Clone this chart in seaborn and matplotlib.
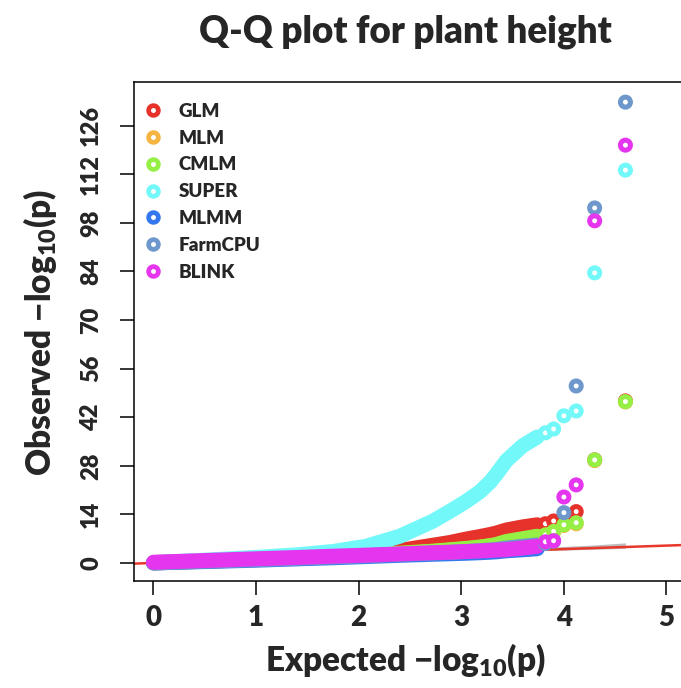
import numpy as np
import pandas as pd
import seaborn as sns
import matplotlib.pyplot as plt
from matplotlib.lines import Line2D

methods = ['GLM', 'MLM', 'CMLM', 'SUPER', 'MLMM', 'FarmCPU', 'BLINK']
colors = ['#E6322A', '#F6B441', '#95EF45', '#72F8F8', '#3478F0', '#6E97CB', '#E535EE']

# dense part of each curve (looks like a thick band)
band_expected = [0.0, 0.5, 1.0, 1.42, 1.75, 2.07, 2.4, 2.72, 2.89, 3.05, 3.18, 3.28, 3.34, 3.44, 3.6, 3.74]
glm_band = [0.1, 0.6, 1.1, 1.6, 2.0, 2.6, 3.6, 5.1, 5.9, 6.9, 7.6, 8.2, 8.6, 9.5, 10.4, 11.0]
mlm_band = [0.0, 0.5, 1.0, 1.4, 1.75, 2.2, 2.7, 3.3, 3.7, 4.1, 4.5, 4.9, 5.2, 6.0, 6.8, 7.5]
cmlm_band = [0.05, 0.55, 1.05, 1.5, 1.85, 2.3, 2.8, 3.4, 3.8, 4.2, 4.6, 5.0, 5.3, 6.2, 7.0, 7.7]
super_band = [0.1, 0.8, 1.6, 2.4, 3.3, 4.8, 7.7, 12.0, 14.9, 17.8, 20.5, 23.3, 25.5, 29.5, 33.8, 36.3]
mlmm_band = [0.0, 0.4, 0.8, 1.2, 1.5, 1.85, 2.2, 2.5, 2.65, 2.8, 2.95, 3.1, 3.2, 3.5, 3.8, 4.1]
farmcpu_band = [0.0, 0.5, 0.95, 1.4, 1.75, 2.1, 2.5, 2.85, 3.05, 3.3, 3.55, 3.75, 3.9, 4.3, 4.8, 5.2]
blink_band = [0.2, 0.7, 1.2, 1.6, 1.95, 2.25, 2.6, 2.95, 3.1, 3.3, 3.45, 3.6, 3.7, 3.85, 4.3, 4.8]

# top ranked SNPs drawn as separate rings
tail_expected = [3.82, 3.9, 4.0, 4.12, 4.3, 4.6]
glm_tail = [11.3, 12.1, 13.0, 14.8, 29.7, 46.7]
mlm_tail = [8.0, 8.9, 10.8, 11.3, 29.5, 46.4]
cmlm_tail = [8.1, 9.1, 11.0, 11.6, 29.7, 46.5]
super_tail = [37.5, 38.6, 42.4, 43.8, 83.6, 113.2]
mlmm_tail = [np.nan, np.nan, np.nan, np.nan, np.nan, np.nan]
farmcpu_tail = [5.6, 6.3, 14.5, 51.0, 102.3, 132.8]
blink_tail = [6.1, 6.4, 19.0, 22.5, 98.6, 120.4]

# grey confidence band
ci_expected = [0.0, 1.0, 2.0, 3.0, 3.5, 4.0, 4.3, 4.6]
ci_lower = [0.0, 0.95, 1.9, 2.8, 3.3, 3.7, 3.95, 4.2]
ci_upper = [0.0, 1.05, 2.15, 3.3, 3.95, 4.75, 5.2, 5.8]

bands = [glm_band, mlm_band, cmlm_band, super_band, mlmm_band, farmcpu_band, blink_band]
tails = [glm_tail, mlm_tail, cmlm_tail, super_tail, mlmm_tail, farmcpu_tail, blink_tail]

band_df = pd.concat([pd.DataFrame({'expected': band_expected, 'observed': b, 'method': m})
                     for m, b in zip(methods, bands)], ignore_index=True)
tail_df = pd.concat([pd.DataFrame({'expected': tail_expected, 'observed': t, 'method': m})
                     for m, t in zip(methods, tails)], ignore_index=True).dropna()
palette = dict(zip(methods, colors))

sns.set_style('ticks')
plt.rcParams['font.family'] = ['Lato', 'DejaVu Sans']
plt.rcParams['font.weight'] = 'heavy'
plt.rcParams['mathtext.fontset'] = 'custom'
plt.rcParams['mathtext.rm'] = 'Lato:heavy'
plt.rcParams['mathtext.it'] = 'Lato:heavy'
plt.rcParams['mathtext.bf'] = 'Lato:heavy'

fig = plt.figure(figsize=(6.81, 6.88), dpi=100)
x0, x1 = -0.19, 5.3
y0, y1 = -5.2, 138.6
ax = fig.add_axes([134 / 681, 107 / 688, (154 + x1 * 102.5 - 134) / 681, 499 / 688])

ax.fill_between(ci_expected, ci_lower, ci_upper, color='#BDBDBD', lw=0, zorder=1)
ax.axline((0, 0), slope=1, color='#E8382A', lw=1.8, zorder=1.5)

sns.lineplot(data=band_df, x='expected', y='observed', hue='method', hue_order=methods,
             palette=palette, estimator=None, sort=False, legend=False, lw=10.8,
             solid_capstyle='round', ax=ax)
sns.scatterplot(data=tail_df, x='expected', y='observed', hue='method', hue_order=methods,
                palette=palette, s=52, linewidth=3.6, legend=False, zorder=3, ax=ax)
rings = ax.collections[-1]
rings.set_edgecolors(rings.get_facecolors())
rings.set_facecolors('white')

ax.set_xlim(x0, x1)
ax.set_ylim(y0, y1)
ax.set_xticks([0, 1, 2, 3, 4, 5])
ax.set_yticks(np.arange(0, 127, 14))
ax.set_xlabel('')
ax.set_ylabel('')
ax.tick_params(direction='out', length=10, width=1.1, color='black')
ax.tick_params(axis='x', pad=7, labelsize=20)
ax.tick_params(axis='y', pad=13, labelsize=17, labelrotation=90)
plt.setp(ax.get_yticklabels(), va='center')
for s in ax.spines.values():
    s.set_linewidth(1.1)
    s.set_color('black')

handles = [Line2D([], [], ls='none', marker='o', ms=7, mew=3.4, mfc='white', mec=c) for c in colors]
ax.legend(handles, methods, loc='upper left', bbox_to_anchor=(144 / 681, 1 - 103 / 688),
          bbox_transform=fig.transFigure, frameon=False, fontsize=13.5, handlelength=1.0,
          handletextpad=0.85, labelspacing=0.52, borderpad=0, borderaxespad=0)

fig.text(405 / 681, 1 - 32 / 688, 'Q-Q plot for plant height', ha='center', va='center',
         fontsize=26.5, weight='heavy')
fig.text(405 / 681, 1 - 660 / 688, r'Expected $\mathregular{-log_{10}}$(p)', ha='center',
         va='center', fontsize=24, weight='heavy')
fig.text(40 / 681, 1 - 332 / 688, r'Observed $\mathregular{-log_{10}}$(p)', ha='center',
         va='center', rotation=90, fontsize=24, weight='heavy')

fig.savefig('out.png', dpi=100)
